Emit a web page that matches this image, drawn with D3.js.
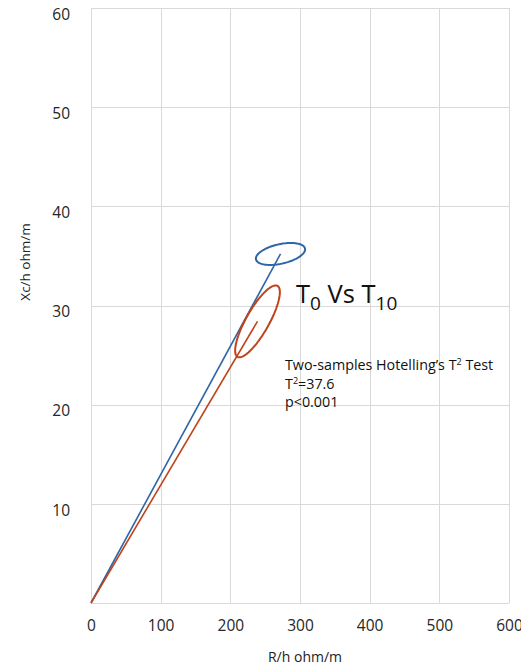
<!DOCTYPE html>
<html>
<head>
<meta charset="utf-8">
<script src="https://cdn.jsdelivr.net/npm/d3@7"></script>
<style>
  body { margin: 0; background: #fff; }
  svg { display: block; }
</style>
</head>
<body>
<script>
var width = 521;
var height = 667;

// tick values
var xTicks = [0, 100, 200, 300, 400, 500, 600];
var yTicks = [10, 20, 30, 40, 50, 60];

// two time points, T0 (blue) and T10 (red)
var groups = ["T0", "T10"];
var meanR = [272, 239];
var meanXc = [35.2, 28.4];
// confidence ellipse half-axes, in data units
var axis1R = [35.2, 28.7];
var axis1Xc = [0.55, 3.58];
var axis2R = [3.1, 14.4];
var axis2Xc = [-0.96, -0.57];
var colors = ["#2f66a6", "#bf431b"];

var margin = {top: 8, right: 12, bottom: 64, left: 91};

var svg = d3.select("body")
    .append("svg")
    .attr("width", width)
    .attr("height", height);

var x = d3.scaleLinear()
    .domain([0, 600])
    .range([margin.left, width - margin.right]);

var y = d3.scaleLinear()
    .domain([0, 60])
    .range([height - margin.bottom, margin.top]);

// grid
var grid = svg.append("g").attr("stroke", "#d9d9d9").attr("stroke-width", 1);
grid.selectAll(".vx")
    .data(xTicks)
    .enter()
    .append("line")
    .attr("x1", function(d){ return Math.round(x(d)) + 0.5; })
    .attr("x2", function(d){ return Math.round(x(d)) + 0.5; })
    .attr("y1", y(0))
    .attr("y2", y(60));
grid.selectAll(".hy")
    .data([0].concat(yTicks))
    .enter()
    .append("line")
    .attr("x1", x(0))
    .attr("x2", x(600))
    .attr("y1", function(d){ return Math.round(y(d)) + 0.5; })
    .attr("y2", function(d){ return Math.round(y(d)) + 0.5; });

// axes (labels only)
var xAxis = svg.append("g")
    .attr("transform", "translate(0," + y(0) + ")")
    .call(d3.axisBottom(x).tickValues(xTicks).tickSize(0).tickPadding(17).tickFormat(d3.format("d")));
var yAxis = svg.append("g")
    .attr("transform", "translate(" + x(0) + ",0)")
    .call(d3.axisLeft(y).tickValues(yTicks).tickSize(0).tickPadding(21).tickFormat(d3.format("d")));

[xAxis, yAxis].forEach(function(a){
    a.select(".domain").remove();
    a.selectAll("text")
        .attr("fill", "#262626")
        .style("font-family", "'Open Sans', sans-serif")
        .style("font-size", "15.5px");
});
yAxis.selectAll("text").attr("dy", "0.72em");

// axis titles
svg.append("text")
    .attr("x", 305)
    .attr("y", 662)
    .attr("text-anchor", "middle")
    .style("font-family", "'Open Sans', sans-serif")
    .style("font-size", "14px")
    .attr("fill", "#222")
    .text("R/h ohm/m");

svg.append("text")
    .attr("transform", "translate(30,262) rotate(-90)")
    .attr("text-anchor", "middle")
    .style("font-family", "'Open Sans', sans-serif")
    .style("font-size", "13.5px")
    .attr("fill", "#222")
    .text("Xc/h ohm/m");

// vectors from origin and confidence ellipses
var line = d3.line()
    .x(function(p){ return x(p[0]); })
    .y(function(p){ return y(p[1]); });

var angles = d3.range(0, 361, 4).map(function(a){ return a * Math.PI / 180; });

groups.forEach(function(g, i){
    svg.append("path")
        .attr("d", line([[0, 0], [meanR[i], meanXc[i]]]))
        .attr("fill", "none")
        .attr("stroke", colors[i])
        .attr("stroke-width", 1.6);

    var pts = angles.map(function(t){
        return [meanR[i] + axis1R[i] * Math.cos(t) + axis2R[i] * Math.sin(t),
                meanXc[i] + axis1Xc[i] * Math.cos(t) + axis2Xc[i] * Math.sin(t)];
    });
    svg.append("path")
        .attr("d", line.curve(d3.curveLinearClosed)(pts))
        .attr("fill", "none")
        .attr("stroke", colors[i])
        .attr("stroke-width", 2);
    line.curve(d3.curveLinear);
});

// annotations
var title = svg.append("text")
    .attr("x", 296)
    .attr("y", 303)
    .style("font-family", "'Open Sans', sans-serif")
    .style("font-size", "25.5px")
    .attr("fill", "#111");
title.append("tspan").text("T");
title.append("tspan").attr("dy", 7).style("font-size", "19px").text("0");
title.append("tspan").attr("dy", -7).text(" Vs T");
title.append("tspan").attr("dy", 7).style("font-size", "19px").text("10");

var note = svg.append("g")
    .style("font-family", "'Open Sans', sans-serif")
    .style("font-size", "14.3px")
    .attr("fill", "#111");
var l1 = note.append("text").attr("x", 285).attr("y", 370);
l1.append("tspan").text("Two-samples Hotelling\u2019s T");
l1.append("tspan").attr("dy", -5).style("font-size", "9px").text("2");
l1.append("tspan").attr("dy", 5).text(" Test");
var l2 = note.append("text").attr("x", 285).attr("y", 389);
l2.append("tspan").text("T");
l2.append("tspan").attr("dy", -5).style("font-size", "9px").text("2");
l2.append("tspan").attr("dy", 5).text("=37.6");
note.append("text").attr("x", 285).attr("y", 407).text("p<0.001");
</script>
</body>
</html>
